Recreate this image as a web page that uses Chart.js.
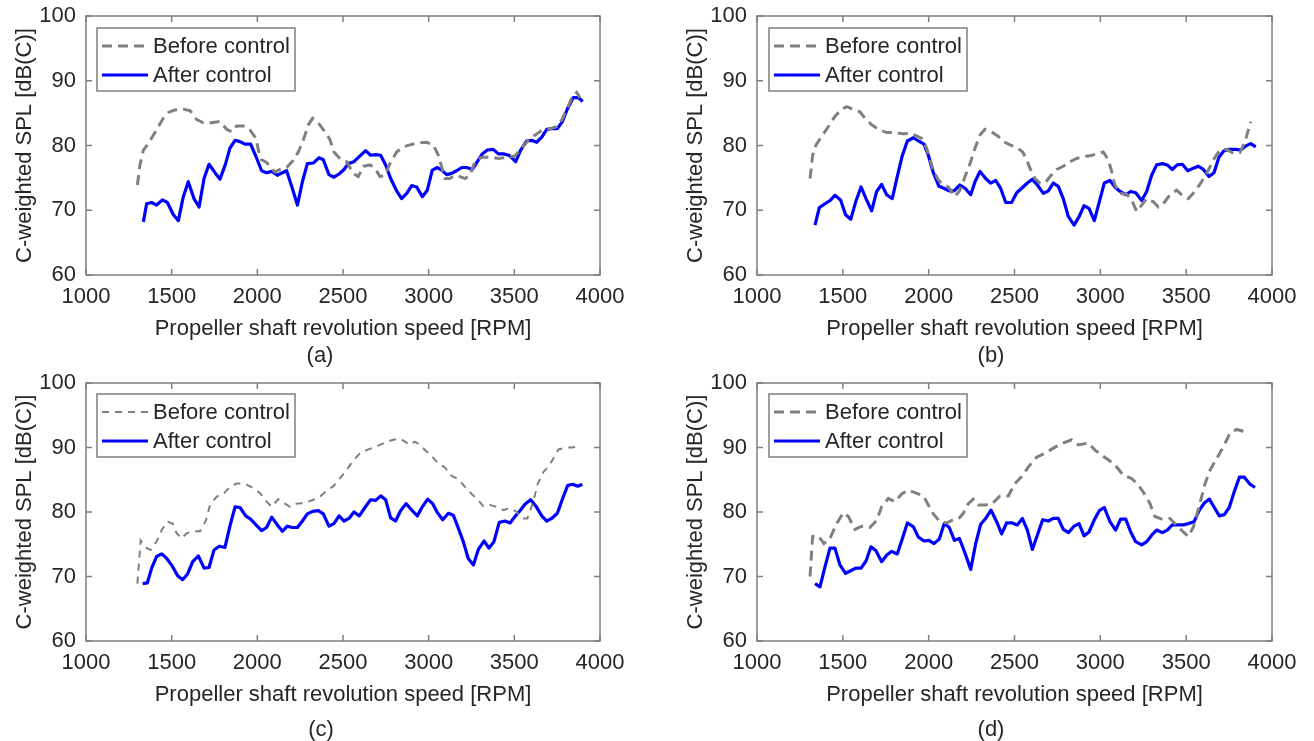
<!DOCTYPE html>
<html><head><meta charset="utf-8">
<script src="https://cdn.jsdelivr.net/npm/chart.js@4"></script>
<style>
html,body{margin:0;padding:0;background:#fff;width:1314px;height:741px;overflow:hidden;}
canvas{position:absolute;}
.lbl{position:absolute;font-family:"Liberation Sans",Arial,sans-serif;font-size:22px;color:#262626;transform:translate(-50%,-50%);white-space:nowrap;line-height:1;}
</style></head><body>
<canvas id="ca" width="656" height="370" style="left:0;top:0"></canvas>
<canvas id="cb" width="643" height="370" style="left:671px;top:0"></canvas>
<canvas id="cc" width="656" height="371" style="left:0;top:370px"></canvas>
<canvas id="cd" width="643" height="371" style="left:671px;top:370px"></canvas>
<div class="lbl" style="left:320px;top:355px">(a)</div>
<div class="lbl" style="left:991px;top:355px">(b)</div>
<div class="lbl" style="left:321px;top:729px">(c)</div>
<div class="lbl" style="left:991px;top:729px">(d)</div>
<script>
// ---------- data ----------
const seriesNames = ["Before control", "After control"];
const xTicks = [1000, 1500, 2000, 2500, 3000, 3500, 4000];
const yTicks = [60, 70, 80, 90, 100];

// (a)
const aBeforeRpm = [1300,1315,1335,1364,1393,1422,1451,1481,1519,1568,1607,1646,1685,1733,1782,1821,1850,1879,1928,1957,1992,2006,2025,2054,2074,2103,2132,2171,2210,2239,2268,2298,2323,2356,2395,2424,2447,2482,2521,2560,2589,2619,2658,2687,2716,2745,2774,2813,2852,2891,2940,2988,3027,3056,3076,3095,3124,3154,3183,3212,3241,3270,3309,3358,3407,3465,3504,3543,3582,3621,3669,3708,3747,3776,3805,3835,3864,3883];
const aBeforeSpl = [73.9,77.0,79.3,80.3,81.6,82.9,84.2,85.1,85.5,85.6,85.4,84.0,83.5,83.5,83.7,82.5,82.1,83.0,83.0,82.4,81.1,79.3,77.8,77.4,76.7,75.9,76.3,76.6,77.7,79.0,80.8,83.2,84.2,83.5,82.1,80.9,79.0,78.0,77.5,75.7,75.2,76.8,77.0,76.5,75.2,75.4,77.2,79.0,79.8,80.1,80.4,80.5,80.1,78.5,76.7,74.9,74.9,75.4,75.2,74.9,75.4,77.5,78.2,78.2,78.0,78.2,78.4,79.6,80.8,81.6,82.5,82.6,82.9,83.9,85.5,87.3,88.2,87.4];
const aAfterRpm = [1335,1354,1383,1412,1446,1475,1510,1539,1568,1597,1630,1660,1689,1718,1753,1782,1815,1840,1870,1899,1928,1961,1992,2025,2054,2084,2117,2146,2171,2204,2234,2263,2292,2327,2360,2385,2418,2447,2477,2506,2531,2564,2599,2632,2661,2691,2720,2749,2778,2813,2842,2872,2901,2930,2963,2992,3021,3051,3076,3105,3134,3163,3193,3222,3255,3284,3313,3342,3377,3407,3436,3469,3508,3537,3572,3601,3630,3660,3689,3718,3751,3780,3809,3844,3874,3899];
const aAfterSpl = [68.2,71.0,71.2,70.8,71.6,71.2,69.3,68.4,72.1,74.4,71.8,70.5,74.9,77.1,75.8,74.8,77.2,79.6,80.8,80.6,80.2,80.2,78.3,76.1,75.8,76.0,75.4,75.8,76.1,73.4,70.8,74.4,77.2,77.3,78.1,77.8,75.5,75.1,75.6,76.3,77.2,77.5,78.4,79.2,78.5,78.6,78.5,77.0,74.9,73.0,71.8,72.6,73.8,73.6,72.1,73.1,76.2,76.6,76.2,75.5,75.7,76.1,76.6,76.6,76.3,77.5,78.7,79.3,79.4,78.7,78.7,78.5,77.5,79.3,80.7,80.8,80.5,81.3,82.5,82.6,82.6,83.7,85.6,87.4,87.4,86.8];

// (b)
const bBeforeRpm = [1309,1324,1344,1377,1415,1454,1493,1522,1561,1600,1629,1668,1707,1755,1804,1852,1891,1920,1959,1988,2008,2027,2056,2085,2115,2153,2182,2212,2241,2270,2299,2328,2367,2406,2435,2474,2513,2548,2571,2590,2619,2648,2678,2707,2746,2784,2823,2862,2901,2940,2978,3017,3046,3066,3085,3115,3153,3182,3212,3241,3270,3309,3338,3367,3406,3445,3474,3513,3551,3590,3629,3668,3697,3736,3775,3813,3843,3862,3876];
const bBeforeSpl = [74.9,78.5,80.1,81.4,82.9,84.5,85.6,86.0,85.6,85.2,84.2,83.2,82.5,82.0,82.0,81.8,81.9,81.6,81.1,79.6,77.8,76.2,74.7,73.9,73.6,72.1,73.1,75.2,77.2,79.6,81.6,82.5,82.1,81.4,80.6,80.1,79.7,79.0,77.8,76.5,74.9,74.2,74.2,75.2,76.3,76.8,77.5,78.0,78.3,78.4,78.7,79.0,77.8,76.0,73.9,72.6,72.5,71.6,69.8,70.8,71.8,71.3,70.5,71.0,72.4,73.1,72.4,71.8,72.9,74.4,76.2,78.2,79.3,79.4,78.8,78.9,80.6,82.4,83.7];
const bAfterRpm = [1338,1363,1396,1425,1454,1487,1516,1546,1575,1606,1635,1668,1697,1726,1755,1788,1817,1847,1876,1911,1940,1973,1998,2027,2060,2089,2118,2148,2182,2212,2245,2270,2299,2332,2361,2390,2419,2449,2483,2513,2542,2575,2604,2633,2668,2697,2726,2755,2784,2814,2847,2876,2905,2934,2965,2994,3023,3056,3085,3115,3148,3177,3206,3241,3270,3299,3328,3361,3390,3419,3448,3478,3509,3542,3571,3600,3633,3662,3691,3720,3749,3788,3817,3846,3876,3905];
const bAfterSpl = [67.7,70.4,71.0,71.5,72.3,71.6,69.3,68.6,71.3,73.6,71.8,69.9,72.9,74.0,72.4,71.8,75.2,78.5,80.7,81.2,80.7,80.2,78.5,75.8,73.7,73.4,73.0,73.0,73.9,73.4,72.4,74.4,76.0,74.9,74.2,74.6,73.4,71.2,71.2,72.7,73.4,74.2,74.8,73.9,72.6,73.0,74.2,73.7,71.8,69.0,67.7,69.0,70.7,70.3,68.4,71.3,74.2,74.6,73.6,72.9,72.4,72.9,72.7,71.5,72.9,75.4,77.0,77.2,77.0,76.3,77.0,77.1,76.1,76.5,76.8,76.3,75.2,75.8,78.2,79.2,79.4,79.4,79.3,79.9,80.3,79.8];

// (c)
const cBeforeRpm = [1300,1319,1344,1377,1412,1442,1475,1506,1529,1558,1587,1626,1665,1700,1724,1763,1802,1840,1879,1928,1977,2016,2054,2084,2122,2161,2191,2230,2278,2327,2366,2405,2444,2482,2521,2560,2599,2638,2677,2716,2755,2794,2833,2862,2891,2920,2949,2979,3017,3056,3095,3134,3173,3212,3251,3290,3319,3358,3397,3436,3475,3514,3543,3576,3611,3634,3669,3698,3728,3757,3805,3844,3868];
const cBeforeSpl = [68.9,75.6,74.6,74.1,75.4,77.2,78.5,78.2,76.7,75.9,76.7,77.0,77.0,78.7,81.1,82.4,82.8,83.9,84.4,84.4,83.7,82.9,81.6,80.8,82.0,81.3,80.8,81.3,81.4,81.9,82.4,83.3,84.0,85.2,86.5,88.0,89.1,89.6,90.0,90.4,90.9,91.2,91.4,90.9,90.4,90.9,90.4,89.6,88.7,87.5,86.9,85.6,85.1,83.9,82.8,81.8,80.9,81.1,80.8,80.3,80.6,80.0,79.0,79.0,81.6,84.2,86.2,87.0,88.3,89.7,90.0,90.0,90.4];
const cAfterRpm = [1331,1358,1383,1412,1442,1471,1504,1535,1564,1593,1623,1656,1689,1718,1747,1778,1811,1840,1870,1899,1932,1961,1992,2025,2054,2084,2117,2146,2175,2204,2234,2263,2292,2323,2356,2385,2418,2447,2477,2506,2535,2564,2595,2628,2661,2691,2720,2749,2778,2807,2836,2868,2901,2934,2963,2994,3023,3051,3082,3115,3144,3173,3202,3231,3261,3290,3323,3352,3381,3412,3446,3475,3504,3533,3562,3595,3626,3660,3689,3718,3751,3782,3811,3840,3870,3897];
const cAfterSpl = [68.9,69.0,71.3,73.1,73.5,72.8,71.6,70.1,69.5,70.4,72.3,73.2,71.3,71.4,74.1,74.7,74.5,77.8,80.8,80.7,79.4,78.9,78.0,77.1,77.6,79.2,78.0,77.0,77.8,77.6,77.6,78.6,79.7,80.1,80.2,79.7,77.8,78.2,79.4,78.6,79.0,80.0,79.4,80.7,81.9,81.8,82.5,81.9,79.1,78.6,80.2,81.3,80.3,79.4,80.8,82.0,81.3,79.9,78.8,79.8,79.5,77.5,75.4,72.8,71.8,74.2,75.5,74.4,75.4,78.4,78.6,78.3,79.3,80.2,81.2,81.9,80.9,79.4,78.6,79.0,79.8,82.1,84.1,84.3,84.0,84.3];

// (d)
const dBeforeRpm = [1309,1324,1357,1390,1425,1464,1503,1532,1571,1610,1658,1697,1726,1765,1804,1843,1881,1920,1969,1998,2027,2066,2105,2144,2173,2202,2231,2260,2289,2328,2367,2415,2464,2503,2542,2581,2629,2678,2726,2775,2833,2872,2930,2969,3008,3046,3085,3134,3182,3221,3250,3289,3318,3357,3406,3454,3483,3513,3542,3580,3610,3639,3678,3716,3755,3794,3823,3852];
const dBeforeSpl = [70.0,76.2,76.3,75.1,75.9,78.2,79.9,79.3,77.3,77.8,77.6,78.7,80.8,82.1,81.6,82.8,83.4,83.0,82.5,81.1,79.7,78.5,78.3,78.8,78.9,79.8,81.3,82.0,81.1,81.1,81.2,82.5,82.5,84.4,85.5,87.0,88.5,89.1,89.9,90.6,91.2,90.4,90.7,89.6,88.8,88.1,87.3,85.7,85.2,84.2,83.1,81.3,79.3,78.9,79.0,77.7,76.9,76.2,77.7,81.3,84.4,86.5,88.3,90.1,92.2,92.8,92.6,92.2];
const dAfterRpm = [1338,1367,1396,1425,1454,1483,1516,1546,1575,1606,1635,1664,1693,1726,1755,1784,1817,1847,1876,1911,1940,1973,2002,2031,2062,2091,2120,2150,2179,2212,2245,2274,2303,2332,2363,2396,2425,2454,2487,2516,2546,2575,2604,2633,2664,2697,2726,2755,2784,2814,2847,2876,2905,2934,2965,2994,3023,3056,3089,3118,3148,3177,3206,3241,3270,3299,3328,3361,3390,3419,3454,3484,3513,3546,3577,3606,3635,3664,3693,3722,3751,3781,3810,3839,3872,3901];
const dAfterSpl = [68.9,68.4,71.5,74.4,74.4,71.8,70.5,70.9,71.3,71.3,72.4,74.6,74.0,72.3,73.3,73.9,73.5,75.9,78.3,77.7,76.1,75.5,75.6,75.1,75.8,78.2,77.6,75.6,75.9,73.6,71.1,75.1,78.1,79.0,80.3,78.5,76.6,78.3,78.3,78.0,79.0,77.2,74.2,76.4,78.8,78.6,79.0,79.0,77.3,76.8,77.8,78.2,76.3,76.9,78.8,80.2,80.7,78.5,77.2,78.9,78.9,76.9,75.4,74.9,75.4,76.4,77.2,76.8,77.2,78.0,78.0,78.0,78.2,78.5,80.3,81.4,82.0,80.7,79.4,79.6,80.7,83.2,85.4,85.4,84.3,83.8];

// ---------- rendering ----------
const FONT = '"Liberation Sans", Arial, Helvetica, sans-serif';
const TXT = '#262626';
const BOXC = '#7f7f7f';
const BLUE = '#0000ff';
const GRAY = '#808080';

function pts(xs, ys) { return xs.map((x, i) => ({x: x, y: ys[i]})); }

const frameAndLegend = {
  id: 'frameAndLegend',
  afterDatasetsDraw(chart, args, opts) {
    const {ctx, chartArea: ca, scales: {x, y}} = chart;
    ctx.save();
    ctx.strokeStyle = BOXC;
    ctx.lineWidth = 1.5;
    ctx.setLineDash([]);
    ctx.strokeRect(ca.left, ca.top, ca.right - ca.left, ca.bottom - ca.top);
    const tl = 6;
    ctx.beginPath();
    x.ticks.forEach(t => {
      const px = x.getPixelForValue(t.value);
      ctx.moveTo(px, ca.bottom); ctx.lineTo(px, ca.bottom - tl);
      ctx.moveTo(px, ca.top); ctx.lineTo(px, ca.top + tl);
    });
    y.ticks.forEach(t => {
      const py = y.getPixelForValue(t.value);
      ctx.moveTo(ca.left, py); ctx.lineTo(ca.left + tl, py);
      ctx.moveTo(ca.right, py); ctx.lineTo(ca.right - tl, py);
    });
    ctx.stroke();
    // legend
    const bx = ca.left + opts.dx, by = ca.top + opts.dy, bw = 198, bh = 63;
    ctx.fillStyle = '#fff';
    ctx.fillRect(bx, by, bw, bh);
    ctx.strokeStyle = BOXC;
    ctx.lineWidth = 1.5;
    ctx.strokeRect(bx, by, bw, bh);
    const rows = [18, 47];
    chart.data.datasets.forEach((ds, i) => {
      const ry = by + rows[i];
      ctx.beginPath();
      ctx.strokeStyle = ds.borderColor;
      ctx.lineWidth = ds.borderWidth;
      ctx.setLineDash(ds.borderDash || []);
      ctx.moveTo(bx + 5, ry); ctx.lineTo(bx + 51, ry);
      ctx.stroke();
      ctx.setLineDash([]);
      ctx.fillStyle = TXT;
      ctx.font = '22px ' + FONT;
      ctx.textBaseline = 'middle';
      ctx.textAlign = 'left';
      ctx.fillText(ds.label, bx + 56, ry + 1);
    });
    ctx.restore();
  }
};

function makeChart(id, bRpm, bSpl, aRpm, aSpl, geom, thinBefore) {
  const cv = document.getElementById(id);
  const W = cv.width, H = cv.height;
  const lh = 22 * 1.2;
  const titlePadBottom = H - lh / 2 - (geom.bottom + 54);
  new Chart(cv, {
    type: 'line',
    data: {
      datasets: [
        {label: seriesNames[0], data: pts(bRpm, bSpl), borderColor: GRAY,
         borderWidth: thinBefore ? 2 : 3, borderDash: thinBefore ? [7, 6] : [10, 6],
         pointRadius: 0, tension: 0, fill: false, borderCapStyle: 'butt'},
        {label: seriesNames[1], data: pts(aRpm, aSpl), borderColor: BLUE,
         borderWidth: 3.2, pointRadius: 0, tension: 0, fill: false, borderJoinStyle: 'round'}
      ]
    },
    options: {
      responsive: false, animation: false, devicePixelRatio: 1,
      layout: {padding: {left: 0, top: geom.top, right: W - geom.right, bottom: 0}},
      plugins: {legend: {display: false}, tooltip: {enabled: false},
                frameAndLegend: {dx: geom.ldx, dy: geom.ldy}},
      scales: {
        x: {type: 'linear', min: xTicks[0], max: xTicks[xTicks.length - 1],
            afterBuildTicks: s => { s.ticks = xTicks.map(v => ({value: v})); },
            afterFit: s => { s.height = H - geom.bottom; },
            grid: {display: false, drawTicks: true, tickLength: 8}, border: {display: false},
            ticks: {color: TXT, font: {family: FONT, size: 22, lineHeight: 1}, padding: 3,
                    maxRotation: 0, autoSkip: false, callback: v => String(v)},
            title: {display: true, text: 'Propeller shaft revolution speed [RPM]', color: TXT,
                    font: {family: FONT, size: 22}, padding: {top: 0, bottom: titlePadBottom}}},
        y: {type: 'linear', min: yTicks[0], max: yTicks[yTicks.length - 1],
            afterBuildTicks: s => { s.ticks = yTicks.map(v => ({value: v})); },
            afterFit: s => { s.width = geom.left; },
            grid: {display: false, drawTicks: true, tickLength: 8}, border: {display: false},
            ticks: {color: TXT, font: {family: FONT, size: 22, lineHeight: 1}, padding: 2,
                    autoSkip: false, callback: v => String(v)},
            title: {display: true, text: 'C-weighted SPL [dB(C)]', color: TXT,
                    font: {family: FONT, size: 22}, padding: {top: 12, bottom: 0}}}
      }
    },
    plugins: [frameAndLegend]
  });
}

makeChart('ca', aBeforeRpm, aBeforeSpl, aAfterRpm, aAfterSpl, {left: 86, right: 600, top: 16, bottom: 275, ldx: 11, ldy: 12}, false);
makeChart('cb', bBeforeRpm, bBeforeSpl, bAfterRpm, bAfterSpl, {left: 86, right: 601, top: 16, bottom: 275, ldx: 12, ldy: 12}, false);
makeChart('cc', cBeforeRpm, cBeforeSpl, cAfterRpm, cAfterSpl, {left: 86, right: 600, top: 13, bottom: 271, ldx: 11, ldy: 11}, true);
makeChart('cd', dBeforeRpm, dBeforeSpl, dAfterRpm, dAfterSpl, {left: 86, right: 601, top: 13, bottom: 271, ldx: 12, ldy: 11}, false);
</script>
</body></html>
